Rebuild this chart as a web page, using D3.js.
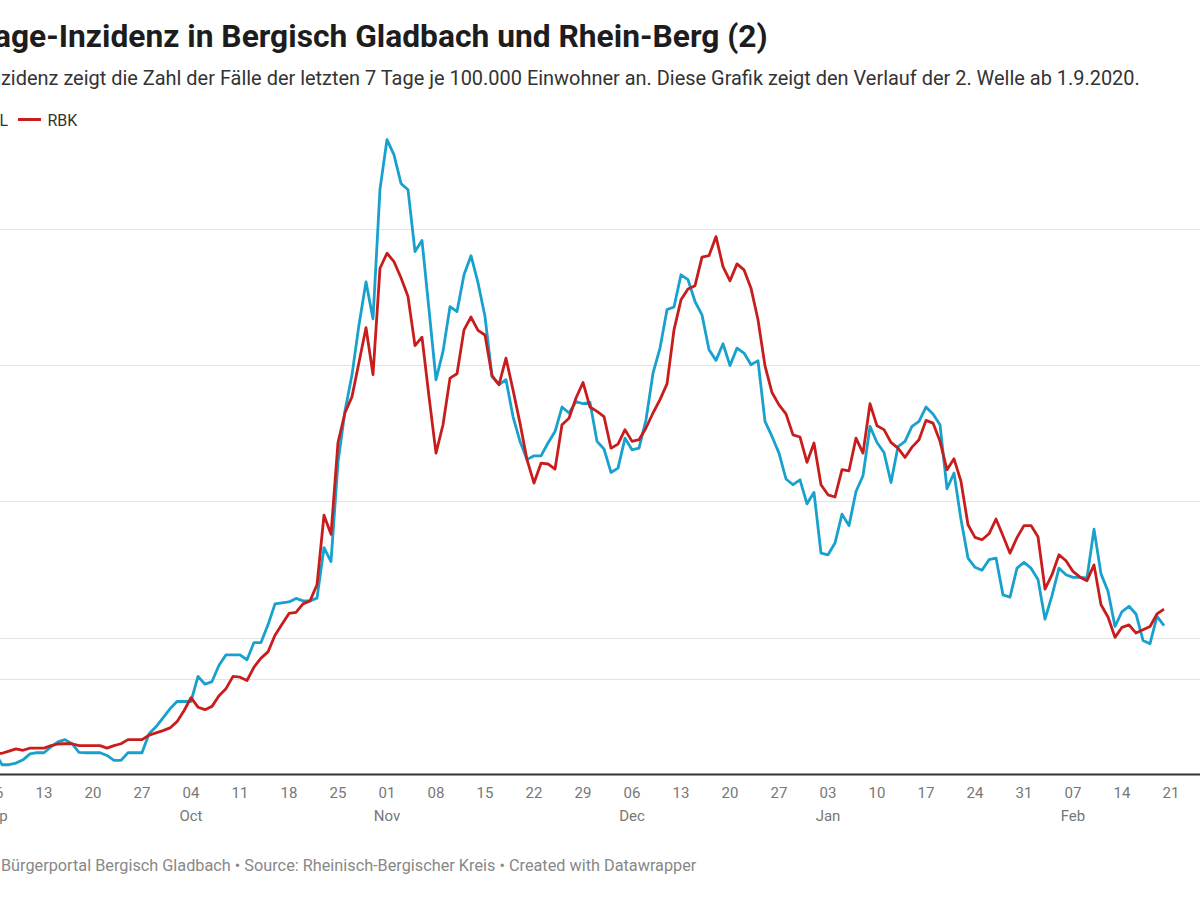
<!DOCTYPE html>
<html>
<head>
<meta charset="utf-8">
<script src="https://cdn.jsdelivr.net/npm/d3@7"></script>
<style>
  body { margin: 0; background: #fff; overflow: hidden; }
  svg { display: block; font-family: Roboto, sans-serif; }
</style>
</head>
<body>
<svg id="chart" width="1200" height="900"></svg>
<script>
// 7-Tage-Inzidenz, tägliche Werte ab 1.9.2020
const startDate = new Date(2020, 8, 1);

const bgl = [
  9, 10, 8, 7, 8, 7.8, 3.4, 3.4, 4.0, 5.2, 7.4, 7.8, 7.8, 10.0, 11.8, 12.6, 11.1, 7.9, 7.8, 7.8,
  7.8, 6.8, 5.0, 5.0, 7.8, 7.8, 7.8, 14.8, 17.3, 20.6, 23.9, 26.6, 26.6, 26.6, 35.8, 32.9, 33.9, 39.9, 43.7, 43.7,
  43.7, 41.9, 48.2, 48.2, 54.7, 62.4, 62.8, 63.1, 64.4, 63.5, 63.5, 64.5, 83.0, 77.9, 114.3, 133.2, 146.4, 164.8, 180.5, 166.9,
  214.5, 232.7, 227.1, 216.6, 214.3, 191.6, 195.7, 170.3, 144.6, 155.0, 171.4, 169.6, 183.1, 190.1, 180.2, 167.8, 145.8, 142.8, 144.6, 131.1,
  122.0, 115.3, 116.7, 116.7, 121.4, 125.6, 134.6, 132.4, 136.6, 135.8, 136.3, 122.0, 119.2, 110.6, 112.2, 123.2, 118.9, 119.5, 129.9, 147.0,
  156.2, 170.3, 171.3, 183.1, 181.3, 173.3, 168.4, 155.6, 151.7, 157.8, 149.8, 156.2, 154.4, 150.1, 151.6, 129.3, 123.8, 117.7, 108.2, 106.1,
  107.9, 99.1, 103.3, 81.0, 80.4, 84.7, 95.3, 91.1, 103.6, 109.4, 127.5, 121.6, 117.9, 106.9, 120.1, 122.0, 127.5, 129.3, 134.6, 132.0,
  128.1, 104.6, 110.4, 93.3, 79.2, 75.8, 74.7, 78.6, 79.2, 65.7, 64.9, 75.5, 77.6, 75.5, 71.3, 56.8, 65.4, 75.5, 73.1, 72.1,
  72.1, 71.9, 89.8, 73.4, 67.0, 54.1, 59.6, 61.5, 58.7, 49.0, 47.8, 57.8, 54.4
];

const rbk = [
  7, 7, 7.2, 7, 7.3, 7.5, 7.6, 8.4, 9.2, 8.7, 9.5, 9.5, 9.5, 10.4, 11.0, 11.1, 11.1, 10.4, 10.4, 10.4,
  10.4, 9.5, 10.4, 11.1, 12.6, 12.6, 12.6, 14.2, 15.1, 15.9, 16.9, 19.2, 23.2, 28.0, 24.5, 23.6, 24.8, 28.7, 31.3, 35.8,
  35.5, 34.3, 39.2, 42.5, 44.8, 50.9, 54.9, 58.9, 59.3, 62.4, 63.5, 69.4, 94.9, 87.9, 121.6, 132.5, 138.4, 151.0, 163.7, 146.5,
  185.5, 191.0, 187.9, 182.0, 175.1, 157.1, 160.2, 138.4, 117.7, 128.1, 145.2, 146.8, 162.9, 167.6, 162.7, 161.0, 146.1, 142.8, 152.5, 140.9,
  128.7, 115.3, 106.7, 114.0, 113.7, 111.8, 128.1, 130.5, 137.9, 143.6, 134.6, 133.0, 131.1, 119.5, 121.0, 126.3, 122.0, 122.6, 126.9, 132.4,
  137.3, 143.1, 162.9, 173.9, 177.9, 179.1, 189.6, 190.1, 197.1, 186.1, 180.9, 187.1, 184.9, 178.2, 166.6, 149.7, 139.9, 135.4, 132.1, 124.4,
  123.6, 114.3, 121.4, 106.1, 102.4, 101.6, 111.6, 111.2, 123.2, 117.7, 135.8, 127.7, 126.3, 121.6, 119.5, 116.1, 119.9, 122.6, 129.7, 128.7,
  122.0, 111.6, 115.6, 107.3, 91.4, 86.8, 85.9, 88.1, 93.5, 87.4, 81.0, 86.7, 91.1, 91.1, 87.0, 67.8, 73.1, 80.4, 78.2, 74.3,
  72.2, 70.9, 76.7, 62.1, 57.6, 50.1, 53.8, 54.7, 51.7, 52.9, 54.1, 58.7, 60.5
];

const gridValues = [35, 50, 100, 150, 200];
const seriesNames = ['BGL', 'RBK'];
const seriesColors = ['#18a1cd', '#c71e1d'];

const title = '7-Tage-Inzidenz in Bergisch Gladbach und Rhein-Berg (2)';
const subtitle = 'Die Inzidenz zeigt die Zahl der Fälle der letzten 7 Tage je 100.000 Einwohner an. Diese Grafik zeigt den Verlauf der 2. Welle ab 1.9.2020.';
const footer = 'Chart: Bürgerportal Bergisch Gladbach • Source: Rheinisch-Bergischer Kreis • Created with Datawrapper';

const dates = bgl.map(function(d, i) { return d3.timeDay.offset(startDate, i); });

const svg = d3.select('#chart');

var x = d3.scaleTime()
  .domain([startDate, dates[dates.length - 1]])
  .range([-40, -40 + 7 * (dates.length - 1)]);

var y = d3.scaleLinear()
  .domain([0, 200])
  .range([774, 228.7]);

// text whose start runs off the left edge: size it so the visible part
// spans from visStart to visEnd, the hidden prefix sits left of 0
function edgeText(str, prefix, baseSize, visStart, visEnd, yPos, attrs) {
  var t = svg.append('text').attr('y', yPos).attr('font-size', baseSize).text(str);
  Object.keys(attrs).forEach(function(a) { t.attr(a, attrs[a]); });
  var full = t.node().getComputedTextLength();
  var pre = t.node().getSubStringLength(0, prefix.length);
  var k = (visEnd - visStart) / (full - pre);
  t.attr('font-size', baseSize * k).attr('x', visStart - pre * k);
  return t;
}

// the T of "Tage" kerns over the "a", so the cut sits a little further left
edgeText(title, '7-T', 30, -6, 768, 47, { 'font-weight': 700, 'fill': '#1d1d1d' });
edgeText(subtitle, 'Die In', 17, 1, 1140, 85, { 'fill': '#333' });
edgeText(footer, 'Chart: ', 14, 1, 697, 871, { 'fill': '#888' });

// legend
var legend = svg.append('g');
var blueText = legend.append('text')
  .attr('x', 8).attr('y', 126)
  .attr('text-anchor', 'end')
  .attr('font-size', 16)
  .attr('fill', '#333')
  .text(seriesNames[0]);
var bw = blueText.node().getComputedTextLength();
legend.append('line')
  .attr('x1', 8 - bw - 29).attr('x2', 8 - bw - 6)
  .attr('y1', 119.5).attr('y2', 119.5)
  .attr('stroke', seriesColors[0])
  .attr('stroke-width', 3);
legend.append('line')
  .attr('x1', 18).attr('x2', 41)
  .attr('y1', 119.5).attr('y2', 119.5)
  .attr('stroke', seriesColors[1])
  .attr('stroke-width', 3);
legend.append('text')
  .attr('x', 47.5).attr('y', 126)
  .attr('font-size', 16)
  .attr('fill', '#333')
  .text(seriesNames[1]);

// gridlines
svg.append('g')
  .selectAll('line')
  .data(gridValues)
  .enter()
  .append('line')
  .attr('x1', 0).attr('x2', 1200)
  .attr('y1', function(d) { return Math.round(y(d)) + 0.5; })
  .attr('y2', function(d) { return Math.round(y(d)) + 0.5; })
  .attr('stroke', '#e3e3e3')
  .attr('stroke-width', 1);

// lines
var line = d3.line()
  .x(function(d, i) { return x(dates[i]); })
  .y(function(d) { return y(d); });

[bgl, rbk].forEach(function(series, i) {
  svg.append('path')
    .datum(series)
    .attr('fill', 'none')
    .attr('stroke', seriesColors[i])
    .attr('stroke-width', 2.8)
    .attr('stroke-linejoin', 'round')
    .attr('d', line);
});

// baseline
svg.append('line')
  .attr('x1', 0).attr('x2', 1200)
  .attr('y1', y(0) + 0.5).attr('y2', y(0) + 0.5)
  .attr('stroke', '#333')
  .attr('stroke-width', 2);

// x axis labels
var ticks = d3.timeSunday.range(d3.timeDay.offset(startDate, 1), d3.timeDay.offset(dates[dates.length - 1], 2));
var axis = svg.append('g');
var lastMonth = -1;
ticks.forEach(function(t) {
  axis.append('text')
    .attr('x', x(t))
    .attr('y', 798)
    .attr('text-anchor', 'middle')
    .attr('font-size', 15)
    .attr('fill', '#777')
    .text(d3.timeFormat('%d')(t));
  if (t.getMonth() !== lastMonth) {
    lastMonth = t.getMonth();
    axis.append('text')
      .attr('x', x(t))
      .attr('y', 821)
      .attr('text-anchor', 'middle')
      .attr('font-size', 15)
      .attr('fill', '#777')
      .text(d3.timeFormat('%b')(t));
  }
});
</script>
</body>
</html>
